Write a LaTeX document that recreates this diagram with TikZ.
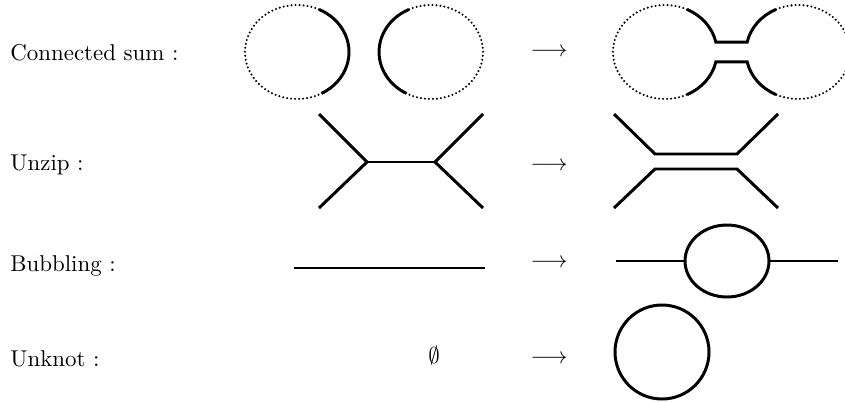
\documentclass[tikz,border=0pt]{standalone}
\usepackage{amssymb}
\usetikzlibrary{calc}
\tikzset{
 strand/.style={line width=1.3pt},
 dotstrand/.style={line width=1pt,line cap=round,dash pattern=on 0pt off 1.75pt},
 movename/.style={anchor=base west,inner sep=0,font=\normalsize},
 movearrow/.style={inner sep=0}
}
\begin{document}
\begin{tikzpicture}[x=0.437pt,y=0.437pt]
\path[use as bounding box] (0,0) rectangle (845,402);
% names of the moves
\node[movename] (nconn) at (10,342) {Connected sum :};
\node[movename] (nunzip) at (10,232) {Unzip :};
\node[movename] (nbubb) at (10,131) {Bubbling :};
\node[movename] (nunknot) at (10,36) {Unknot :};
\node[movearrow] (aconn) at (549,350) {$\longrightarrow$};
\node[movearrow] (aunzip) at (549,236) {$\longrightarrow$};
\node[movearrow] (abubb) at (549,139) {$\longrightarrow$};
\node[movearrow] (aunknot) at (549,43) {$\longrightarrow$};
% connected sum
\coordinate (LA) at (297,350);
\coordinate (LB) at (431,350);
\coordinate (RA) at (665,350);
\coordinate (RB) at (798,350);
\draw[dotstrand] (LA) ++(65:52 and 47) arc[start angle=65,end angle=295,x radius=52,y radius=47];
\draw[strand] (LA) ++(-62:52 and 47) arc[start angle=-62,end angle=65,x radius=52,y radius=47];
\draw[dotstrand] (LB) ++(115:52 and 47) arc[start angle=115,end angle=-115,x radius=52,y radius=47];
\draw[strand] (LB) ++(115:52 and 47) arc[start angle=115,end angle=242,x radius=52,y radius=47];
\draw[dotstrand] (RA) ++(65:52 and 47) arc[start angle=65,end angle=295,x radius=52,y radius=47];
\draw[dotstrand] (RB) ++(115:52 and 47) arc[start angle=115,end angle=-115,x radius=52,y radius=47];
\draw[strand] ($(RA)+(65:52 and 47)$) arc[start angle=65,end angle=12,x radius=52,y radius=47]
 -- ($(RB)+(168:52 and 47)$) arc[start angle=168,end angle=115,x radius=52,y radius=47];
\draw[strand] ($(RA)+(-65:52 and 47)$) arc[start angle=-65,end angle=-12,x radius=52,y radius=47]
 -- ($(RB)+(-168:52 and 47)$) arc[start angle=-168,end angle=-115,x radius=52,y radius=47];
% unzip
\coordinate (u1) at (367,240);
\coordinate (u2) at (435,240);
\draw[strand] (319,288) -- (u1) -- (319,194);
\draw[strand] (u1) -- (u2);
\draw[strand] (483,288) -- (u2) -- (483,194);
\draw[strand] (614,288) -- (655,248) -- (737,248) -- (778,288);
\draw[strand] (614,194) -- (655,233) -- (737,233) -- (778,194);
% bubbling
\coordinate (bub) at (727,141);
\draw[strand] (294,134) -- (485,134);
\draw[strand] (bub) ellipse[x radius=42,y radius=36];
\draw[strand] (616,141) -- ($(bub)+(-42,0)$);
\draw[strand] ($(bub)+(42,0)$) -- (838,141);
% unknot
\node (empty) at (434,46) {$\emptyset$};
\coordinate (knot) at (662,50);
\draw[strand] (knot) circle[radius=47];
\end{tikzpicture}
\end{document}
